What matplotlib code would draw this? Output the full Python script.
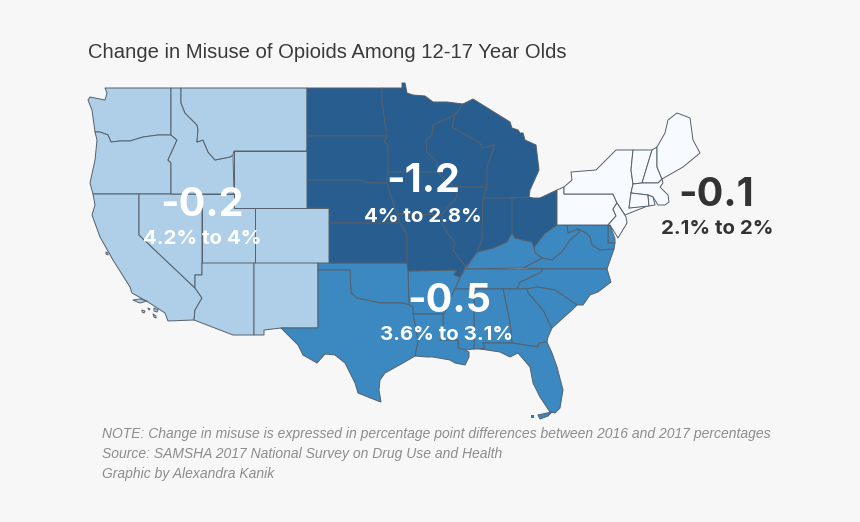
import matplotlib
matplotlib.use('Agg')
import matplotlib.pyplot as plt
from matplotlib.patches import Polygon

# State outlines (x, y in image pixels)
washington = [(105,88),(107,93),(105,100),(90,97),(88,100),(92,110),(95,132),(100,132),(108,135),(111,142),(120,141),(130,141),(143,137),(158,135),(171,135),(171,88)]
oregon = [(95,132),(100,132),(108,135),(111,142),(120,141),(130,141),(143,137),(158,135),(171,135),(177,140),(168,160),(171,163),(171,194),(93,194),(90,183),(95,160),(97,140)]
california = [(93,194),(139,194),(139,235),(195,288),(202,298),(195,310),(194,320),(168,321),(165,313),(148,302),(132,293),(130,287),(113,260),(100,237),(92,215),(95,205)]
nevada = [(139,194),(202,194),(202,275),(195,275),(195,288),(139,235)]
idaho = [(171,88),(181,88),(181,103),(185,113),(197,125),(198,130),(197,142),(203,140),(208,152),(215,160),(230,157),(233,155),(234,194),(171,194),(171,163),(168,160),(177,140),(171,135)]
montana = [(181,88),(307,88),(307,151),(234,151),(233,155),(230,157),(215,160),(208,152),(203,140),(197,142),(198,130),(197,125),(185,113),(181,103)]
wyoming = [(234,151),(307,151),(307,208),(234,208)]
utah = [(202,194),(234,194),(234,208),(255,208),(255,263),(202,263)]
colorado = [(255,208),(329,208),(329,263),(255,263)]
arizona = [(202,263),(254,263),(254,335),(233,335),(194,320),(195,310),(202,298),(195,288),(195,275),(202,275)]
new_mexico = [(254,263),(318,263),(318,328),(281,328),(264,330),(264,335),(254,335)]

north_dakota = [(307,88),(382,88),(382,100),(385,123),(387,136),(307,136)]
south_dakota = [(307,136),(387,136),(384,142),(388,145),(388,172),(387,183),(378,183),(370,183),(360,180),(307,180)]
nebraska = [(307,180),(360,180),(370,183),(378,183),(387,183),(389,190),(395,208),(397,214),(400,223),(329,223),(329,208),(307,208)]
kansas = [(329,223),(400,223),(407,234),(407,263),(329,263)]
minnesota = [(382,88),(402,88),(402,83),(405,83),(407,93),(413,95),(425,96),(433,102),(447,102),(463,104),(455,115),(433,125),(432,135),(426,140),(427,152),(437,162),(438,172),(388,172),(388,145),(384,142),(387,136),(385,123),(382,100)]
iowa = [(388,172),(438,172),(445,180),(455,187),(457,197),(447,208),(442,215),(397,214),(395,208),(389,190),(387,183)]
missouri = [(397,214),(442,215),(442,224),(447,232),(455,243),(453,250),(463,263),(466,267),(460,277),(454,275),(457,270),(408,271),(407,263),(407,234),(400,223)]
wisconsin = [(433,125),(455,115),(452,127),(480,143),(482,148),(495,145),(487,167),(487,187),(455,187),(445,180),(438,172),(437,162),(427,152),(426,140),(432,135)]
michigan = [(463,104),(473,99),(510,122),(512,128),(518,130),(520,133),(523,133),(525,140),(536,145),(539,170),(530,190),(529,197),(512,198),(483,198),(487,187),(487,167),(495,145),(482,148),(480,143),(452,127),(455,115)]
illinois = [(455,187),(487,187),(483,198),(482,240),(477,252),(466,267),(463,263),(453,250),(455,243),(447,232),(442,224),(442,215),(447,208),(457,197)]
indiana = [(483,198),(512,198),(512,233),(507,242),(493,248),(477,252),(482,240)]
ohio = [(512,198),(529,197),(533,198),(540,198),(557,190),(557,225),(545,233),(534,247),(532,242),(515,238),(512,233)]

pennsylvania = [(557,190),(564,187),(564,194),(613,194),(617,203),(613,209),(616,216),(608,225),(557,225)]
new_york = [(564,187),(572,180),(571,172),(596,170),(616,150),(633,150),(631,170),(633,184),(631,193),(629,208),(650,205),(625,215),(617,203),(613,194),(564,194)]
new_jersey = [(617,203),(626,217),(627,223),(618,238),(610,225),(608,225),(616,216),(613,209)]
vermont = [(633,150),(652,150),(642,183),(633,184),(631,170)]
new_hampshire = [(652,150),(657,147),(657,167),(662,179),(658,183),(642,183)]
maine = [(657,147),(665,133),(668,120),(677,113),(690,118),(693,140),(700,153),(683,167),(662,179),(657,167)]
massachusetts = [(633,184),(642,183),(658,183),(662,179),(663,183),(660,187),(668,195),(669,202),(665,205),(658,205),(653,197),(648,195),(631,193)]
connecticut = [(631,193),(648,195),(649,206),(629,208)]
rhode_island = [(648,195),(653,197),(655,205),(649,206)]

delaware = [(608,225),(610,225),(615,239),(615,243),(608,243)]
maryland = [(567,225),(608,225),(608,243),(615,243),(614,249),(600,250),(592,245),(590,237),(586,233),(578,229),(568,233)]
west_virginia = [(534,247),(545,233),(557,225),(567,225),(568,233),(578,229),(580,232),(570,240),(562,252),(552,260),(542,258),(535,253)]
virginia = [(523,268),(542,258),(552,260),(562,252),(570,240),(580,232),(578,229),(586,233),(590,237),(592,245),(600,250),(614,249),(607,269),(543,269)]
kentucky = [(477,252),(493,248),(507,242),(512,233),(515,238),(532,242),(534,247),(535,253),(542,258),(523,268),(466,269),(470,262)]
tennessee = [(466,269),(543,269),(540,273),(525,280),(520,282),(517,289),(455,289),(460,277)]
north_carolina = [(543,269),(607,269),(611,282),(598,292),(590,295),(583,305),(577,305),(555,290),(537,287),(527,289),(517,289),(520,282),(525,280),(540,273)]
south_carolina = [(527,289),(537,287),(555,290),(577,305),(572,310),(563,318),(552,328),(550,325),(543,310),(528,293)]
georgia = [(503,289),(527,289),(528,293),(543,310),(550,325),(552,328),(548,337),(547,342),(539,343),(538,347),(512,343),(510,323)]
alabama = [(474,289),(503,289),(510,323),(512,343),(483,343),(485,348),(480,349),(474,349)]
mississippi = [(455,289),(474,289),(474,349),(465,350),(458,348),(458,340),(440,340),(443,327),(443,314),(445,312),(450,298)]
florida = [(483,343),(512,343),(538,347),(539,343),(547,342),(552,353),(557,367),(563,390),(560,408),(555,413),(550,412),(540,397),(533,383),(530,367),(518,353),(510,357),(500,352),(480,349),(485,348)]
arkansas = [(408,271),(457,270),(454,275),(460,277),(455,289),(450,298),(445,312),(443,314),(413,314),(413,307),(409,305)]
louisiana = [(413,314),(443,314),(443,327),(440,340),(458,340),(458,348),(465,350),(469,352),(469,357),(465,365),(455,363),(450,360),(433,357),(427,357),(415,356),(418,340)]
oklahoma = [(318,263),(407,263),(408,271),(409,305),(403,303),(380,303),(357,298),(351,293),(350,270),(318,270)]
texas = [(318,270),(350,270),(351,293),(357,298),(380,303),(403,303),(409,305),(413,307),(413,314),(418,340),(415,356),(403,363),(385,373),(380,380),(379,390),(381,402),(378,401),(358,393),(355,383),(345,363),(335,355),(325,354),(317,363),(303,355),(298,345),(285,332),(281,328),(318,328)]

# Small islands off California and Florida
channel_islands = [
    [(133,300),(140,299),(147,301),(140,303)],
    [(142,310),(145,311),(144,313),(142,312)],
    [(148,308),(150,309),(149,310)],
    [(154,308),(158,310),(157,312),(154,311)],
    [(153,314),(156,316),(156,318),(154,317)],
    [(106,252),(108,253),(108,255),(106,254)],
]
florida_keys = [
    [(538,415),(547,413),(552,412),(548,416),(540,419)],
    [(531,415),(533,415),(533,417),(531,417)],
]

# Groups and their labels
west_states = [washington, oregon, california, nevada, idaho, montana, wyoming, utah, colorado, arizona, new_mexico]
midwest_states = [north_dakota, south_dakota, nebraska, kansas, minnesota, iowa, missouri, wisconsin, michigan, illinois, indiana, ohio]
northeast_states = [pennsylvania, new_york, new_jersey, vermont, new_hampshire, maine, massachusetts, connecticut, rhode_island]
south_states = [delaware, maryland, west_virginia, virginia, kentucky, tennessee, north_carolina, south_carolina, georgia, alabama, mississippi, florida, arkansas, louisiana, oklahoma, texas]

changes = ['-0.2', '-1.2', '-0.5', '-0.1']
ranges = ['4.2% to 4%', '4% to 2.8%', '3.6% to 3.1%', '2.1% to 2%']

title = 'Change in Misuse of Opioids Among 12-17 Year Olds'
notes = [
    'NOTE: Change in misuse is expressed in percentage point differences between 2016 and 2017 percentages',
    'Source: SAMSHA 2017 National Survey on Drug Use and Health',
    'Graphic by Alexandra Kanik',
]

BG = '#f7f7f7'
EDGE = '#55606c'

fig = plt.figure(figsize=(8.6, 5.22), dpi=100, facecolor=BG)
ax = fig.add_axes([0, 0, 1, 1])
ax.set_xlim(0, 860)
ax.set_ylim(522, 0)
ax.axis('off')


def draw_states(states, color):
    for outline in states:
        ax.add_patch(Polygon(outline, closed=True, facecolor=color, edgecolor=EDGE, linewidth=0.7, joinstyle='round'))


draw_states(west_states + channel_islands, '#aecfe7')
draw_states(south_states + florida_keys, '#3c89c1')
draw_states(midwest_states, '#285d8f')
draw_states(northeast_states, '#f7faff')

# Big numbers and ranges for each region
change_x = [202, 423, 449, 716]
change_y = [201, 178, 297, 191]
range_x = [202, 423, 447, 717]
range_y = [236.5, 214.5, 333, 227]
label_colors = ['white', 'white', 'white', '#333333']
for i in range(4):
    ax.text(change_x[i], change_y[i], changes[i], fontsize=28.5, fontweight='bold', color=label_colors[i],
            ha='center', va='center_baseline', family='Inter')
    ax.text(range_x[i], range_y[i], ranges[i], fontsize=14.7, fontweight='bold', color=label_colors[i],
            ha='center', va='center_baseline', family='Inter')

ax.text(88, 52.5, title, fontsize=14.6, color='#3a3a3a', ha='left', va='center', family='Liberation Sans')
for y, line in zip([434, 454, 474], notes):
    ax.text(102, y, line, fontsize=10, style='italic', color='#8c8c8c', ha='left', va='center', family='Liberation Sans')

plt.savefig('out.png', dpi=100, facecolor=BG)
